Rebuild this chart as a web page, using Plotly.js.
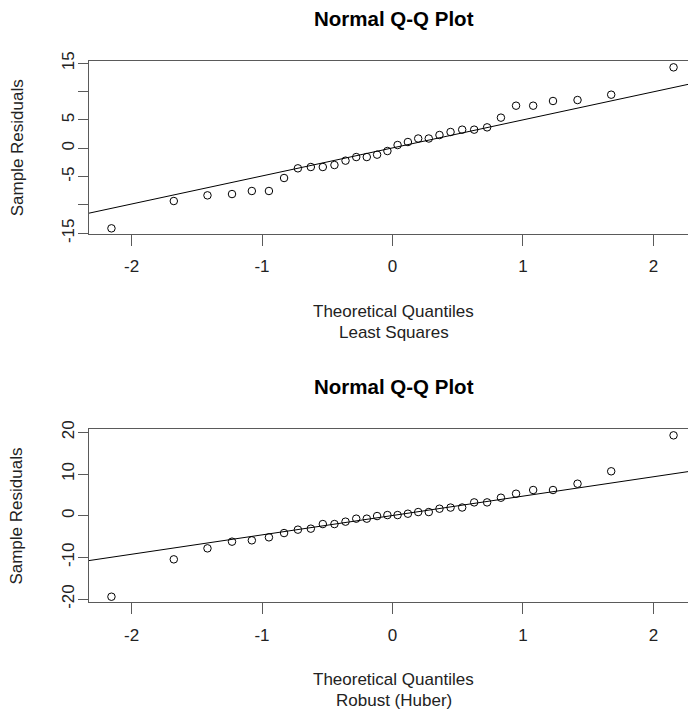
<!DOCTYPE html>
<html>
<head>
<meta charset="utf-8">
<script src="https://cdn.plot.ly/plotly-3.0.1.min.js"></script>
<style>html,body{margin:0;padding:0;background:#fff;}#chart{width:688px;height:713px;}</style>
</head>
<body>
<div id="chart"></div>
<script>
// Theoretical normal quantiles (n = 32)
const theoreticalQuantiles = [-2.154, -1.676, -1.418, -1.230, -1.078, -0.947, -0.831, -0.725, -0.626, -0.534, -0.445, -0.360, -0.278, -0.197, -0.118, -0.039,
  0.039, 0.118, 0.197, 0.278, 0.360, 0.445, 0.534, 0.626, 0.725, 0.831, 0.947, 1.078, 1.230, 1.418, 1.676, 2.154];
// Sorted residuals, Least Squares fit
const leastSquaresResiduals = [-14.12, -9.30, -8.30, -8.07, -7.53, -7.53, -5.24, -3.53, -3.30, -3.30, -2.95, -2.18, -1.54, -1.54, -1.12, -0.48,
  0.58, 1.11, 1.73, 1.73, 2.35, 2.88, 3.29, 3.29, 3.70, 5.41, 7.52, 7.52, 8.35, 8.52, 9.46, 14.29];
// Sorted residuals, Robust (Huber) fit
const huberResiduals = [-19.44, -10.47, -7.83, -6.23, -5.91, -5.19, -4.16, -3.35, -3.11, -2.00, -2.00, -1.43, -0.71, -0.71, -0.08, 0.16,
  0.16, 0.48, 0.88, 0.88, 1.68, 1.95, 1.97, 3.20, 3.20, 4.32, 5.28, 6.17, 6.17, 7.68, 10.66, 19.29];
// Reference (qqline) lines: [intercept, slope]
const leastSquaresLine = [0.07, 4.95];
const huberLine = [0.05, 4.65];
// Tick labels
const xTickVals = [-2, -1, 0, 1, 2];
const xTickText = ['-2', '-1', '0', '1', '2'];
const y1TickVals = [-15, -10, -5, 0, 5, 10, 15];
const y1TickText = ['-15', '', '-5', '0', '5', '', '15'];
const y2TickVals = [-20, -10, 0, 10, 20];
const y2TickText = ['-20', '-10', '0', '10', '20'];
const panelTitle = 'Normal Q-Q Plot';
const xTitle = 'Theoretical Quantiles';
const yTitle = 'Sample Residuals';
const subTitles = ['Least Squares', 'Robust (Huber)'];

const lineX = [-3, 3];
function lineY(p) { return lineX.map(x => p[0] + p[1] * x); }

const markerStyle = {symbol: 'circle-open', size: 7.5, color: '#000', line: {width: 1, color: '#000'}};
const traces = [
  {x: theoreticalQuantiles, y: leastSquaresResiduals, type: 'scatter', mode: 'markers', marker: markerStyle, xaxis: 'x', yaxis: 'y', cliponaxis: false},
  {x: lineX, y: lineY(leastSquaresLine), type: 'scatter', mode: 'lines', line: {color: '#000', width: 1}, xaxis: 'x', yaxis: 'y'},
  {x: theoreticalQuantiles, y: huberResiduals, type: 'scatter', mode: 'markers', marker: markerStyle, xaxis: 'x2', yaxis: 'y2', cliponaxis: false},
  {x: lineX, y: lineY(huberLine), type: 'scatter', mode: 'lines', line: {color: '#000', width: 1}, xaxis: 'x2', yaxis: 'y2'}
];

const W = 688, H = 713, L = 89;
const axisColor = '#5a5a5a';
const tickFont = {family: 'Liberation Sans, Arial, sans-serif', size: 17, color: '#222'};
function xAxis(anchor) {
  return {anchor: anchor, domain: [0, 1], range: [-2.326, 2.2647], showgrid: false, zeroline: false,
    showline: true, mirror: true, linecolor: axisColor, linewidth: 1,
    ticks: 'outside', ticklen: 11, tickwidth: 1, tickcolor: axisColor,
    tickvals: xTickVals, ticktext: xTickText, tickfont: tickFont, ticklabelstandoff: 6, automargin: false, fixedrange: true};
}
function yAxis(anchor, domain, range, vals, text) {
  return {anchor: anchor, domain: domain, range: range, showgrid: false, zeroline: false,
    showline: true, mirror: false, linecolor: axisColor, linewidth: 1,
    ticks: 'outside', ticklen: 10, tickwidth: 1, tickcolor: axisColor,
    tickvals: vals, ticktext: text, tickfont: tickFont, tickangle: -90, ticklabelstandoff: -3, automargin: false, fixedrange: true};
}
function py(p) { return 1 - p / H; }
function px(p) { return (p - L) / (W - L); }

const off = 368.3;
const annFont = {family: 'Liberation Sans, Arial, sans-serif', size: 17, color: '#222'};
const annotations = [];
[0, 1].forEach(i => {
  const o = i * off;
  annotations.push({xref: 'paper', yref: 'paper', x: px(393.5), y: py(18.3 + o), text: '<b>' + panelTitle + '</b>', showarrow: false,
    xanchor: 'center', yanchor: 'middle', font: {family: 'Liberation Sans, Arial, sans-serif', size: 20.5, color: '#000'}});
  annotations.push({xref: 'paper', yref: 'paper', x: px(393.5), y: py(311 + o), text: xTitle, showarrow: false,
    xanchor: 'center', yanchor: 'middle', font: annFont});
  annotations.push({xref: 'paper', yref: 'paper', x: px(393.5), y: py(332 + o), text: subTitles[i], showarrow: false,
    xanchor: 'center', yanchor: 'middle', font: annFont});
  annotations.push({xref: 'paper', yref: 'paper', x: px(17), y: py(148.3 + o), text: yTitle, showarrow: false, textangle: -90,
    xanchor: 'center', yanchor: 'middle', font: annFont});
});

const layout = {
  width: W, height: H, margin: {l: L, r: 0, t: 0, b: 0},
  paper_bgcolor: '#fff', plot_bgcolor: '#fff', showlegend: false,
  font: {family: 'Liberation Sans, Arial, sans-serif'},
  xaxis: xAxis('y'),
  yaxis: yAxis('x', [py(234), py(60.7)], [-15.12, 15.46], y1TickVals, y1TickText),
  xaxis2: xAxis('y2'),
  yaxis2: yAxis('x2', [py(602.3), py(429)], [-20.78, 20.81], y2TickVals, y2TickText),
  annotations: annotations
};
Plotly.newPlot('chart', traces, layout, {displayModeBar: false, staticPlot: true});
</script>
</body>
</html>
